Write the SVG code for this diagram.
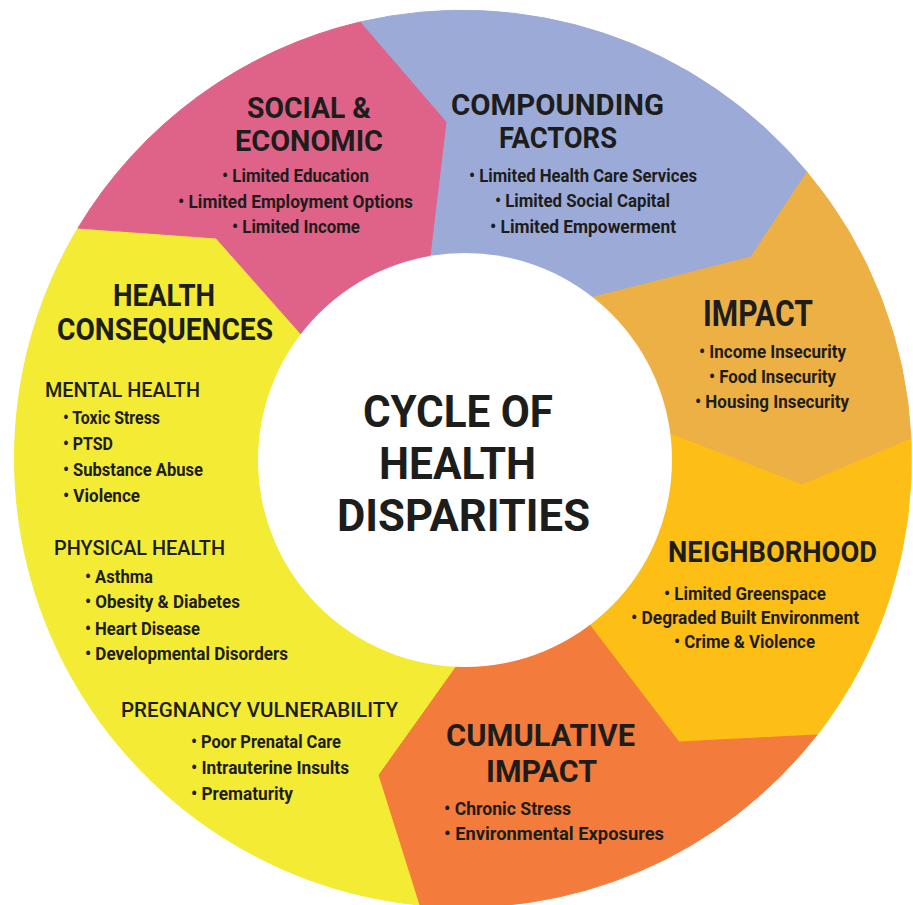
<svg xmlns="http://www.w3.org/2000/svg" width="913" height="905" viewBox="0 0 913 905">
<style>
text{font-family:Roboto,"DejaVu Sans Condensed","Liberation Sans",sans-serif;fill:#1d1d1b;}
.h{font-weight:700;font-size:29px;}
.hc{font-weight:700;font-size:31px;}
.h36{font-weight:700;font-size:36px;}
.h32{font-weight:700;font-size:32px;}
.hn{font-weight:700;font-size:30px;}
.t{font-weight:700;font-size:45px;}
.s{font-weight:500;font-size:21px;}
.b{font-weight:700;font-size:19px;}
.seg{stroke-width:1;stroke-linejoin:round;}
</style>
<rect width="913" height="905" fill="#ffffff"/>
<g id="segments">
<g id="compounding-factors">
<path class="seg" fill="#9caad8" stroke="#9caad8" d="M360,22 A449,449 0 0 1 807,172 L751,257 L594,297 L465,460 L430,256 L446,122 Z"/>
</g>
<g id="impact">
<path class="seg" fill="#edb045" stroke="#edb045" d="M807,172 A449,449 0 0 1 911,439 L802,485 L670,434 L465,460 L594,297 L751,257 Z"/>
</g>
<g id="neighborhood">
<path class="seg" fill="#fdbe16" stroke="#fdbe16" d="M911,439 A449,449 0 0 1 817,735 L679,742 L595,632 L465,460 L670,434 L802,485 Z"/>
</g>
<g id="cumulative-impact">
<path class="seg" fill="#f37b3c" stroke="#f37b3c" d="M817,735 A449,449 0 0 1 419,905 L378,775 L455,667 L465,460 L595,632 L679,742 Z"/>
</g>
<g id="health-consequences">
<path class="seg" fill="#f3eb34" stroke="#f3eb34" d="M419,905 A449,449 0 0 1 78,228 L216,238 L301,334 L465,460 L455,667 L378,775 Z"/>
</g>
<g id="social-economic">
<path class="seg" fill="#df6289" stroke="#df6289" d="M78,228 A449,449 0 0 1 360,22 L446,122 L430,256 L465,460 L301,334 L216,238 Z"/>
</g>
</g>
<g id="connectors"></g>
<g id="center">
<circle cx="465" cy="460" r="207" fill="#ffffff"/>
<text class="t"><tspan x="363" y="427" textLength="190" lengthAdjust="spacingAndGlyphs">CYCLE OF</tspan><tspan x="379" y="479" textLength="157" lengthAdjust="spacingAndGlyphs">HEALTH</tspan><tspan x="337" y="531" textLength="253" lengthAdjust="spacingAndGlyphs">DISPARITIES</tspan></text>
</g>
<g id="social-economic-text">
<text class="h"><tspan x="247" y="118" textLength="124" lengthAdjust="spacingAndGlyphs">SOCIAL &amp;</tspan><tspan x="235" y="151" textLength="148" lengthAdjust="spacingAndGlyphs">ECONOMIC</tspan></text>
<text class="b" x="222" y="182" textLength="147" lengthAdjust="spacingAndGlyphs">• Limited Education</text>
<text class="b" x="178" y="208" textLength="235" lengthAdjust="spacingAndGlyphs">• Limited Employment Options</text>
<text class="b" x="232" y="233" textLength="128" lengthAdjust="spacingAndGlyphs">• Limited Income</text>
</g>
<g id="compounding-factors-text">
<text class="h"><tspan x="451" y="115" textLength="213" lengthAdjust="spacingAndGlyphs">COMPOUNDING</tspan><tspan x="499" y="148" textLength="118" lengthAdjust="spacingAndGlyphs">FACTORS</tspan></text>
<text class="b" x="469" y="182" textLength="228" lengthAdjust="spacingAndGlyphs">• Limited Health Care Services</text>
<text class="b" x="495" y="207" textLength="175" lengthAdjust="spacingAndGlyphs">• Limited Social Capital</text>
<text class="b" x="490" y="233" textLength="186" lengthAdjust="spacingAndGlyphs">• Limited Empowerment</text>
</g>
<g id="impact-text">
<text class="h36" x="703" y="326" textLength="110" lengthAdjust="spacingAndGlyphs">IMPACT</text>
<text class="b" x="699" y="358" textLength="147" lengthAdjust="spacingAndGlyphs">• Income Insecurity</text>
<text class="b" x="709" y="383" textLength="127" lengthAdjust="spacingAndGlyphs">• Food Insecurity</text>
<text class="b" x="695" y="408" textLength="154" lengthAdjust="spacingAndGlyphs">• Housing Insecurity</text>
</g>
<g id="neighborhood-text">
<text class="hn" x="668" y="562" textLength="209" lengthAdjust="spacingAndGlyphs">NEIGHBORHOOD</text>
<text class="b" x="664" y="600" textLength="162" lengthAdjust="spacingAndGlyphs">• Limited Greenspace</text>
<text class="b" x="631" y="624" textLength="228" lengthAdjust="spacingAndGlyphs">• Degraded Built Environment</text>
<text class="b" x="674" y="648" textLength="141" lengthAdjust="spacingAndGlyphs">• Crime &amp; Violence</text>
</g>
<g id="cumulative-impact-text">
<text class="h32"><tspan x="446" y="746" textLength="189" lengthAdjust="spacingAndGlyphs">CUMULATIVE</tspan><tspan x="486" y="782" textLength="111" lengthAdjust="spacingAndGlyphs">IMPACT</tspan></text>
<text class="b" x="444" y="815" textLength="127" lengthAdjust="spacingAndGlyphs">• Chronic Stress</text>
<text class="b" x="444" y="840" textLength="220" lengthAdjust="spacingAndGlyphs">• Environmental Exposures</text>
</g>
<g id="health-consequences-text">
<text class="hc"><tspan x="113" y="306" textLength="102" lengthAdjust="spacingAndGlyphs">HEALTH</tspan><tspan x="57" y="340" textLength="216" lengthAdjust="spacingAndGlyphs">CONSEQUENCES</tspan></text>
<text class="s" x="45" y="397" textLength="155" lengthAdjust="spacingAndGlyphs">MENTAL HEALTH</text>
<text class="b" x="63" y="424" textLength="97" lengthAdjust="spacingAndGlyphs">• Toxic Stress</text>
<text class="b" x="63" y="450" textLength="50" lengthAdjust="spacingAndGlyphs">• PTSD</text>
<text class="b" x="63" y="476" textLength="140" lengthAdjust="spacingAndGlyphs">• Substance Abuse</text>
<text class="b" x="63" y="502" textLength="77" lengthAdjust="spacingAndGlyphs">• Violence</text>
<text class="s" x="54" y="555" textLength="171" lengthAdjust="spacingAndGlyphs">PHYSICAL HEALTH</text>
<text class="b" x="85" y="583" textLength="68" lengthAdjust="spacingAndGlyphs">• Asthma</text>
<text class="b" x="85" y="608" textLength="155" lengthAdjust="spacingAndGlyphs">• Obesity &amp; Diabetes</text>
<text class="b" x="85" y="635" textLength="115" lengthAdjust="spacingAndGlyphs">• Heart Disease</text>
<text class="b" x="85" y="660" textLength="203" lengthAdjust="spacingAndGlyphs">• Developmental Disorders</text>
<text class="s" x="121" y="717" textLength="277" lengthAdjust="spacingAndGlyphs">PREGNANCY VULNERABILITY</text>
<text class="b" x="191" y="748" textLength="150" lengthAdjust="spacingAndGlyphs">• Poor Prenatal Care</text>
<text class="b" x="191" y="774" textLength="158" lengthAdjust="spacingAndGlyphs">• Intrauterine Insults</text>
<text class="b" x="191" y="800" textLength="102" lengthAdjust="spacingAndGlyphs">• Prematurity</text>
</g>
</svg>
